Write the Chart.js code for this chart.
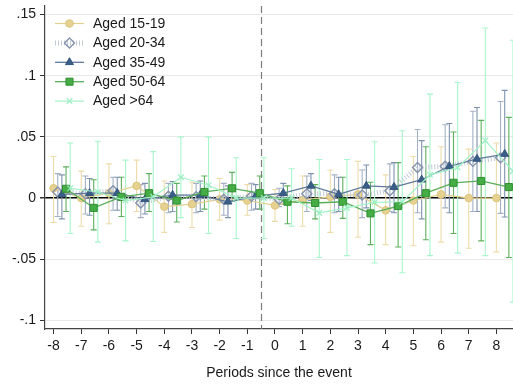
<!DOCTYPE html>
<html>
<head>
<meta charset="utf-8">
<script src="https://cdn.jsdelivr.net/npm/chart.js@4.4.1/dist/chart.umd.min.js"></script>
<style>
  html, body { margin: 0; padding: 0; background: #fff; }
  #wrap { width: 513px; height: 386px; }
</style>
</head>
<body>
<div id="wrap"><canvas id="grafico" width="513" height="386"></canvas></div>
<script>
// Datos
const periodos = [-8, -7, -6, -5, -4, -3, -2, -1, 0, 1, 2, 3, 4, 5, 6, 7, 8];
const ticksY = [-0.1, -0.05, 0, 0.05, 0.1, 0.15];

const etiquetas = ['Aged 15-19', 'Aged 20-34', 'Aged 35-49', 'Aged 50-64', 'Aged >64'];

const edad1519 = [0.008, 0, 0.004, 0.010, -0.007, -0.005, -0.001, -0.002, -0.006, -0.0015, 0.001, 0.003, -0.010, -0.002, 0.003, 0, 0];
const bajo1519 = [-0.020, -0.023, -0.021, -0.011, -0.028, -0.024, -0.018, -0.014, -0.019, -0.023, -0.028, -0.032, -0.038, -0.039, -0.036, -0.041, -0.044];
const alto1519 = [0.034, 0.022, 0.028, 0.031, 0.014, 0.013, 0.016, 0.011, 0.007, 0.018, 0.023, 0.030, 0.019, 0.034, 0.042, 0.040, 0.045];

const edad2034 = [0.005, 0.0035, 0.006, -0.004, 0.0015, 0.001, -0.001, 0.0015, -0.001, 0.0035, 0.0035, 0.0025, 0.006, 0.025, 0.026, 0.030, 0.033];
const bajo2034 = [-0.015, -0.013, -0.010, -0.016, -0.012, -0.012, -0.014, -0.010, -0.007, -0.011, -0.012, -0.016, -0.011, -0.012, -0.008, -0.011, -0.0125];
const alto2034 = [0.020, 0.018, 0.017, 0.011, 0.012, 0.012, 0.012, 0.012, 0.008, 0.018, 0.019, 0.023, 0.028, 0.056, 0.060, 0.071, 0.079];

const edad3549 = [0.003, 0.004, 0.004, -0.001, 0.0025, 0.0025, -0.003, 0.0015, 0.004, 0.010, 0.003, 0.010, 0.009, 0.015, 0.026, 0.032, 0.036];
const bajo3549 = [-0.017, -0.014, -0.010, -0.013, -0.011, -0.011, -0.016, -0.009, -0.005, -0.002, -0.011, -0.008, -0.012, -0.017, -0.012, -0.011, -0.0155];
const alto3549 = [0.019, 0.016, 0.017, 0.012, 0.0135, 0.014, 0.010, 0.011, 0.012, 0.020, 0.017, 0.027, 0.029, 0.047, 0.061, 0.074, 0.088];

const edad5064 = [0.0076, -0.008, 0.001, 0.004, -0.002, 0.005, 0.008, 0.004, -0.003, -0.004, -0.003, -0.0125, -0.0065, 0.004, 0.0125, 0.014, 0.009];
const bajo5064 = [-0.011, -0.026, -0.015, -0.011, -0.0195, -0.009, -0.0025, -0.009, -0.021, -0.017, -0.0166, -0.038, -0.040, -0.034, -0.029, -0.035, -0.0486];
const alto5064 = [0.0255, 0.015, 0.017, 0.020, 0.012, 0.018, 0.021, 0.018, 0.010, 0.011, 0.017, 0.013, 0.029, 0.042, 0.054, 0.0635, 0.066];

const edad64 = [0.008, 0.005, -0.002, 0.001, 0.017, 0.0105, 0, 0, 0, -0.012, -0.008, -0.0035, -0.003, 0.019, 0.025, 0.047, 0.022];
const bajo64 = [-0.029, -0.036, -0.035, -0.0355, -0.016, -0.029, -0.033, -0.033, -0.023, -0.0486, -0.047, -0.053, -0.061, -0.047, -0.045, -0.047, -0.085];
const alto64 = [0.045, 0.0465, 0.031, 0.038, 0.050, 0.050, 0.033, 0.033, 0.024, 0.0315, 0.0315, 0.046, 0.055, 0.085, 0.0945, 0.139, 0.129];

const FUENTE = "'Liberation Sans', Arial, sans-serif";

// arma un dataset con puntos desplazados para que no se tapen
function serie(i, valores, bajo, alto, desplaz, estilo) {
    return Object.assign({
        label: etiquetas[i],
        data: periodos.map((p, k) => ({ x: p + desplaz, y: valores[k] })),
        ciBajo: bajo,
        ciAlto: alto,
        tension: 0,
        fill: false,
        clip: false
    }, estilo);
}

const datasets = [
    serie(0, edad1519, bajo1519, alto1519, 0, {
        borderColor: '#e3cf8e', borderWidth: 1.2,
        pointStyle: 'circle', pointRadius: 3.8,
        pointBackgroundColor: '#e6d190', pointBorderColor: '#dcc47c', pointBorderWidth: 1,
        ciColor: '#eddcaa', order: 5
    }),
    serie(1, edad2034, bajo2034, alto2034, 0.15, {
        borderColor: '#c2cad8', borderWidth: 5, borderDash: [1, 2],
        pointStyle: 'rectRot', pointRadius: 5,
        pointBackgroundColor: 'rgba(255,255,255,0)', pointBorderColor: '#8593ab', pointBorderWidth: 1.4,
        ciColor: '#a4b1c5', order: 4
    }),
    serie(2, edad3549, bajo3549, alto3549, 0.3, {
        borderColor: '#5f7a9b', borderWidth: 1.3,
        pointStyle: 'triangle', pointRadius: 4.6,
        pointBackgroundColor: '#3a5e87', pointBorderColor: '#33557d', pointBorderWidth: 1,
        ciColor: '#7f93af', order: 3
    }),
    serie(3, edad5064, bajo5064, alto5064, 0.45, {
        borderColor: '#5aad5a', borderWidth: 1.3,
        pointStyle: 'rect', pointRadius: 5,
        pointBackgroundColor: '#46ac46', pointBorderColor: '#2f8f2f', pointBorderWidth: 1,
        ciColor: '#5eb05e', order: 2
    }),
    serie(4, edad64, bajo64, alto64, 0.6, {
        borderColor: '#a3f2c8', borderWidth: 1.2,
        pointStyle: 'crossRot', pointRadius: 4,
        pointBackgroundColor: '#9cefc2', pointBorderColor: '#9cefc2', pointBorderWidth: 1.2,
        ciColor: '#a8f6cc', order: 1
    })
];

// intervalos de confianza y línea del evento
const barrasError = {
    id: 'barrasError',
    beforeDatasetsDraw(chart) {
        const { ctx, chartArea, scales: { x, y } } = chart;
        ctx.save();

        const xe = Math.round(x.getPixelForValue(-0.5)) + 0.5;
        ctx.strokeStyle = '#7d7d7d';
        ctx.lineWidth = 1.2;
        ctx.setLineDash([7, 4]);
        ctx.beginPath();
        ctx.moveTo(xe, chartArea.top);
        ctx.lineTo(xe, chartArea.bottom);
        ctx.stroke();
        ctx.setLineDash([]);

        chart.data.datasets.slice().reverse().forEach(ds => {
            ctx.strokeStyle = ds.ciColor;
            ctx.lineWidth = 1.1;
            ds.data.forEach((pt, k) => {
                const px = x.getPixelForValue(pt.x);
                const yb = y.getPixelForValue(ds.ciBajo[k]);
                const ya = y.getPixelForValue(ds.ciAlto[k]);
                ctx.beginPath();
                ctx.moveTo(px, yb); ctx.lineTo(px, ya);
                ctx.moveTo(px - 3, yb); ctx.lineTo(px + 3, yb);
                ctx.moveTo(px - 3, ya); ctx.lineTo(px + 3, ya);
                ctx.stroke();
            });
        });
        ctx.restore();
    }
};

// leyenda dentro del área del gráfico
const leyenda = {
    id: 'leyenda',
    afterDraw(chart) {
        const ctx = chart.ctx;
        ctx.save();
        chart.data.datasets.forEach((ds, i) => {
            const yy = 23.5 + i * 19.4;
            ctx.strokeStyle = ds.borderColor;
            ctx.lineWidth = ds.borderWidth;
            ctx.setLineDash(ds.borderDash || []);
            ctx.beginPath();
            ctx.moveTo(55, yy); ctx.lineTo(84, yy);
            ctx.stroke();
            ctx.setLineDash([]);
            ctx.fillStyle = ds.pointBackgroundColor;
            ctx.strokeStyle = ds.pointBorderColor;
            ctx.lineWidth = ds.pointBorderWidth;
            Chart.helpers.drawPoint(ctx, {
                pointStyle: ds.pointStyle, radius: ds.pointRadius,
                rotation: 0, borderWidth: ds.pointBorderWidth
            }, 69.5, yy);
            ctx.fillStyle = '#1a1a1a';
            ctx.font = '14px ' + FUENTE;
            ctx.textBaseline = 'middle';
            ctx.textAlign = 'left';
            ctx.fillText(ds.label, 93, yy + 0.5);
        });
        ctx.restore();
    }
};

const ctx = document.getElementById('grafico').getContext('2d');
const grafico = new Chart(ctx, {
    type: 'line',
    data: { datasets: datasets },
    options: {
        responsive: false,
        animation: false,
        events: [],
        layout: { autoPadding: false, padding: { top: 6, right: 0, left: 0, bottom: 0 } },
        plugins: {
            legend: { display: false },
            tooltip: { enabled: false }
        },
        scales: {
            x: {
                type: 'linear',
                min: -8.31,
                max: 8.6,
                afterBuildTicks: s => { s.ticks = periodos.map(v => ({ value: v })); },
                afterFit: s => { s.height = 57; s.paddingLeft = 0; s.paddingRight = 0; },
                grid: { drawOnChartArea: false, drawTicks: true, tickLength: 5, tickColor: '#333' },
                border: { display: true, color: '#444', width: 1.2 },
                ticks: {
                    padding: 4,
                    color: '#1a1a1a',
                    font: { family: FUENTE, size: 14 },
                    maxRotation: 0,
                    callback: v => String(v)
                },
                title: {
                    display: true,
                    text: 'Periods since the event',
                    color: '#1a1a1a',
                    font: { family: FUENTE, size: 14 },
                    padding: { top: 0, bottom: 4 }
                }
            },
            y: {
                min: -0.107,
                max: 0.157,
                afterBuildTicks: s => { s.ticks = ticksY.map(v => ({ value: v })); },
                afterFit: s => { s.width = 45; s.paddingTop = 0; s.paddingBottom = 0; },
                grid: {
                    color: c => c.tick && c.tick.value === 0 ? '#000' : '#e8e8e8',
                    lineWidth: c => c.tick && c.tick.value === 0 ? 1.5 : 1,
                    tickColor: '#333',
                    tickLength: 5
                },
                border: { display: true, color: '#444', width: 1.2 },
                ticks: {
                    padding: 4,
                    color: '#1a1a1a',
                    font: { family: FUENTE, size: 14 },
                    callback: v => {
                        if (Math.abs(v) < 1e-9) return '0';
                        const t = String(+v.toFixed(2));
                        return t.replace('0.', '.');
                    }
                }
            }
        }
    },
    plugins: [barrasError, leyenda]
});
</script>
</body>
</html>
